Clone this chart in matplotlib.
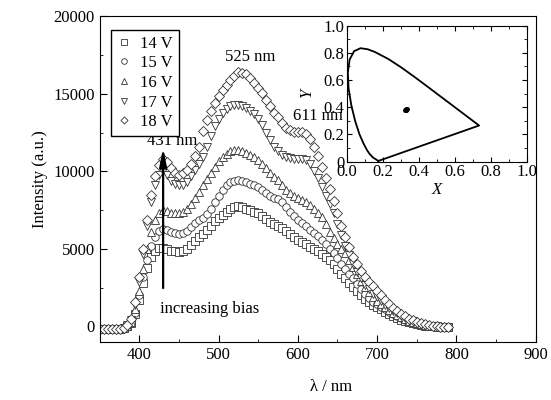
import matplotlib
matplotlib.use("Agg")
import matplotlib.pyplot as plt
from matplotlib.ticker import MultipleLocator, FuncFormatter

plt.rcParams['font.family'] = ['Liberation Serif', 'DejaVu Serif']
plt.rcParams['font.size'] = 12

# ---------------- spectra (every 5 nm) ----------------
wavelength = list(range(350, 795, 5))

i_14v = [-150, -160, -170, -160, -150, -130, -110, 40, 200, 800,
         1700, 2800, 3800, 4500, 4900, 5050, 5050, 5000, 4900, 4850,
         4800, 4850, 5000, 5250, 5500, 5750, 5950, 6200, 6500, 6800,
         7000, 7200, 7400, 7550, 7700, 7750, 7700, 7600, 7500, 7400,
         7300, 7150, 6950, 6750, 6600, 6500, 6350, 6150, 5950, 5750,
         5600, 5450, 5300, 5150, 5000, 4850, 4650, 4450, 4300, 4000,
         3700, 3400, 3100, 2800, 2550, 2300, 2050, 1800, 1600, 1400,
         1250, 1100, 950, 800, 680, 560, 450, 360, 280, 210,
         150, 100, 60, 30, 0, -20, -30, -40, -50]

i_15v = [-150, -160, -170, -160, -150, -130, -110, 50, 250, 900,
         2000, 3200, 4300, 5200, 5800, 6150, 6300, 6250, 6100, 6000,
         5950, 6000, 6150, 6400, 6650, 6900, 7000, 7250, 7600, 8000,
         8400, 8800, 9100, 9300, 9400, 9450, 9400, 9300, 9200, 9100,
         9000, 8800, 8600, 8400, 8300, 8200, 8000, 7700, 7400, 7100,
         6900, 6700, 6450, 6250, 6050, 5850, 5600, 5300, 5000, 4750,
         4400, 4000, 3700, 3400, 3100, 2750, 2400, 2100, 1850, 1600,
         1450, 1250, 1100, 950, 800, 650, 520, 420, 330, 250,
         180, 120, 80, 40, 10, -10, -30, -40, -50]

i_16v = [-150, -160, -170, -160, -150, -130, -110, 60, 300, 1100,
         2300, 3700, 5000, 6100, 6900, 7300, 7500, 7450, 7350, 7300,
         7300, 7400, 7600, 7900, 8300, 8700, 9100, 9500, 9900, 10300,
         10650, 10950, 11150, 11300, 11400, 11400, 11350, 11200, 11050, 10900,
         10750, 10500, 10200, 9900, 9650, 9450, 9100, 8800, 8600, 8400,
         8300, 8150, 8000, 7850, 7600, 7300, 7050, 6600, 6100, 5700,
         5300, 5000, 4750, 4300, 3850, 3400, 2950, 2550, 2200, 1900,
         1650, 1450, 1250, 1050, 900, 750, 600, 480, 380, 290,
         210, 150, 100, 50, 10, -10, -30, -40, -50]

i_17v = [-150, -160, -170, -160, -150, -130, -100, 80, 400, 1400,
         2900, 4700, 6500, 8000, 9100, 9800, 10000, 9800, 9400, 9200,
         9100, 9150, 9350, 9700, 10100, 10500, 10900, 11600, 12300, 12900,
         13400, 13800, 14050, 14200, 14300, 14300, 14250, 14100, 13900, 13700,
         13400, 13000, 12500, 12000, 11600, 11300, 11050, 10900, 10850, 10800,
         10800, 10800, 10750, 10500, 10000, 9600, 9000, 8400, 7900, 7300,
         6600, 5900, 5200, 4600, 4000, 3500, 3100, 2700, 2400, 2100,
         1900, 1650, 1400, 1200, 1000, 850, 700, 550, 430, 330,
         250, 170, 110, 60, 20, 0, -20, -40, -50]

i_18v = [-150, -160, -170, -160, -150, -130, -100, 100, 500, 1600,
         3200, 5000, 6900, 8500, 9700, 10400, 10800, 10600, 10200, 9900,
         9800, 9900, 10100, 10500, 11000, 11600, 12600, 13300, 13900, 14400,
         14850, 15250, 15600, 15900, 16150, 16400, 16350, 16300, 16050, 15700,
         15400, 15050, 14600, 14200, 13800, 13500, 13100, 12800, 12650, 12550,
         12550, 12550, 12400, 12100, 11600, 11000, 10300, 9600, 8900, 8100,
         7300, 6500, 5800, 5100, 4500, 4000, 3600, 3200, 2900, 2600,
         2300, 2000, 1700, 1450, 1200, 1000, 800, 650, 500, 400,
         300, 200, 130, 70, 20, 0, -20, -40, -60]

series = [i_14v, i_15v, i_16v, i_17v, i_18v]
labels = ["14 V", "15 V", "16 V", "17 V", "18 V"]
markers = ["s", "o", "^", "v", "D"]

# ---------------- CIE 1931 locus and measured points ----------------
cie_x = [0.1741, 0.1440, 0.1241, 0.1096, 0.0913, 0.0687, 0.0454, 0.0235,
         0.0082, 0.0039, 0.0139, 0.0389, 0.0743, 0.1142, 0.1547, 0.2296,
         0.3016, 0.3731, 0.4441, 0.5125, 0.5752, 0.6270, 0.6915, 0.7190,
         0.7347, 0.1741]
cie_y = [0.0050, 0.0297, 0.0578, 0.0868, 0.1327, 0.2007, 0.2950, 0.4127,
         0.5384, 0.6548, 0.7502, 0.8120, 0.8338, 0.8262, 0.8059, 0.7543,
         0.6923, 0.6245, 0.5547, 0.4866, 0.4242, 0.3725, 0.3083, 0.2809,
         0.2653, 0.0050]
point_x = [0.322, 0.328, 0.334, 0.330, 0.325]
point_y = [0.382, 0.376, 0.388, 0.384, 0.379]

# ---------------- main plot ----------------
fig = plt.figure(figsize=(5.51, 4.0), dpi=100)
ax = fig.add_axes([0.181, 0.145, 0.791, 0.814])

for vals, lab, m in zip(series, labels, markers):
    ms = 4.8 if m == "D" else 5.4
    ax.plot(wavelength, vals, linestyle="none", marker=m, markersize=ms,
            markerfacecolor="white", markeredgecolor="0.2",
            markeredgewidth=0.6, label=lab)

ax.set_xlim(350, 900)
ax.set_ylim(-1000, 20000)
ax.xaxis.set_major_locator(MultipleLocator(100))
ax.xaxis.set_minor_locator(MultipleLocator(50))
ax.yaxis.set_major_locator(MultipleLocator(5000))
ax.yaxis.set_minor_locator(MultipleLocator(2500))
ax.tick_params(which="both", direction="in", top=False, right=False)
ax.tick_params(which="major", length=5, labelsize=12)
ax.tick_params(which="minor", length=2.5)
ax.set_xlabel("λ / nm", fontsize=12)
ax.xaxis.set_label_coords(0.53, -0.115)
ax.set_ylabel("Intensity (a.u.)", fontsize=12)

ax.annotate("", xy=(430, 11700), xytext=(430, 2300),
            arrowprops=dict(arrowstyle="-|>,head_width=0.18,head_length=0.9",
                            color="black", lw=1.6))
ax.text(426, 1100, "increasing bias", ha="left", va="center", fontsize=12)
ax.text(442, 11950, "431 nm", ha="center", va="center", fontsize=12)
ax.text(540, 17400, "525 nm", ha="center", va="center", fontsize=12)
ax.text(625, 13560, "611 nm", ha="center", va="center", fontsize=12)

leg = ax.legend(loc="upper left", bbox_to_anchor=(0.026, 0.959),
                borderaxespad=0, frameon=True, fancybox=False,
                edgecolor="black", framealpha=1, handlelength=0.8,
                handletextpad=0.6, borderpad=0.35, labelspacing=0.22,
                markerscale=0.75, fontsize=12)
leg.get_frame().set_linewidth(1.0)

# ---------------- inset chromaticity diagram ----------------
ins = fig.add_axes([0.630, 0.596, 0.326, 0.340])
ins.plot(cie_x, cie_y, color="black", lw=1.3)
ins.plot(point_x, point_y, linestyle="none", marker="o", markersize=2.5,
         color="black")
ins.set_xlim(0, 1)
ins.set_ylim(0, 1)
ins.xaxis.set_major_locator(MultipleLocator(0.2))
ins.xaxis.set_minor_locator(MultipleLocator(0.1))
ins.yaxis.set_major_locator(MultipleLocator(0.2))
ins.yaxis.set_minor_locator(MultipleLocator(0.1))
ins.xaxis.set_major_formatter(FuncFormatter(lambda v, p: "%.1f" % v))
ins.yaxis.set_major_formatter(
    FuncFormatter(lambda v, p: "0" if abs(v) < 1e-9 else "%.1f" % v))
ins.tick_params(which="both", direction="in", top=True, right=True)
ins.tick_params(which="major", length=3.5, labelsize=12, pad=2)
ins.tick_params(which="minor", length=2)
ins.set_xlabel("X", fontstyle="italic", fontsize=12, labelpad=1)
ins.set_ylabel("Y", fontstyle="italic", fontsize=12, labelpad=6)

fig.savefig("out.png", dpi=100)
